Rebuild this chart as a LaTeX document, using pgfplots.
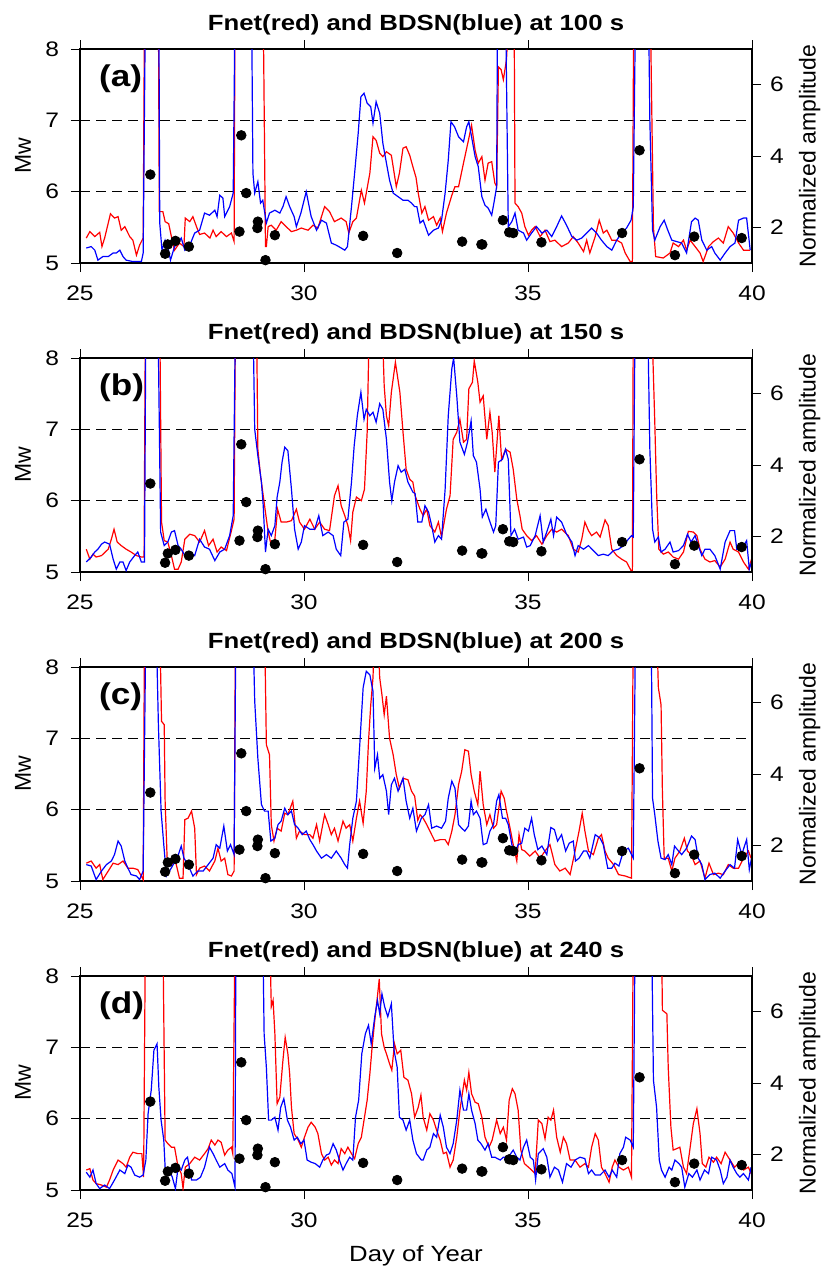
\documentclass[border=0pt]{standalone}
\usepackage{pgfplots}
\pgfplotsset{compat=1.18}
\usepackage{fontspec}
\setmainfont{Liberation Sans}[FakeStretch=1.17]
\setsansfont{Liberation Sans}[FakeStretch=1.17]
\newfontfamily\rotfont{Liberation Sans}
\newcommand{\tlab}{\fontsize{10.5}{12}\selectfont}
\newcommand{\lab}{\fontsize{11}{13}\selectfont}
\pgfplotsset{
 /pgf/number format/assume math mode=true,
 base/.style={scale only axis, width=336pt, height=107pt, xmin=25, xmax=40,
   tick align=outside, major tick length=4.5pt,
   every tick/.style={black, line width=0.5pt},
   tick label style={font=\tlab},
   clip mode=individual},
 panel/.style={base, ymin=5, ymax=8, xtick={25,30,35,40}, ytick={5,6,7,8},
   xtick pos=both, ytick pos=left,
   xticklabel style={yshift=-3.5pt}, yticklabel style={xshift=-2.5pt},
   axis line style={line width=1.15pt},
   title style={font=\bfseries\lab, at={(0.5,1)}, anchor=base, yshift=3.2pt},
   ylabel={Mw}, ylabel style={font=\rotfont\fontsize{11.5}{13}\selectfont, at={(axis description cs:-0.085,0.5)}, anchor=center}},
 amp/.style={base, ymin=1, ymax=7, ytick={2,4,6}, hide x axis,
   axis y line*=right, axis line style={line width=1.15pt},
   yticklabel style={xshift=1pt},
   ylabel={Normalized amplitude}, ylabel style={font=\rotfont\fontsize{11.5}{13}\selectfont, at={(axis description cs:1.086,0.5)}, anchor=center}},
 dsh/.style={black, line width=0.6pt, dash pattern=on 5pt off 3pt},
 rl/.style={red, line width=0.6pt},
 bl/.style={blue, line width=0.6pt},
 dots/.style={only marks, mark=*, mark size=2.4pt, black},
}
\newcommand{\dotsdata}{\addplot[dots] coordinates {(26.57,6.24)(26.90,5.13)(26.96,5.26)(27.13,5.31)(27.43,5.23)(28.60,6.79)(28.71,5.98)(28.56,5.44)(28.96,5.49)(28.97,5.58)(29.14,5.04)(29.35,5.39)(31.32,5.38)(32.08,5.14)(33.53,5.30)(33.96,5.26)(33.98,5.26)(34.44,5.60)(34.58,5.43)(34.67,5.42)(35.30,5.29)(37.10,5.42)(37.49,6.58)(38.28,5.11)(38.71,5.37)(39.77,5.35)};}
\newcommand{\dashes}{\addplot[dsh] coordinates {(25,6)(40,6)}; \addplot[dsh] coordinates {(25,7)(40,7)};}
\newcommand{\plab}[1]{\node[font=\bfseries\fontsize{15}{18}\selectfont, anchor=west] at (axis description cs:0.018,0.86) {#1};}
\begin{document}
\begin{tikzpicture}
\useasboundingbox (0,0) rectangle (413.5pt,-635pt);
% ---------------- (a)
\begin{axis}[panel, at={(40pt,-24.5pt)}, anchor=north west, title={Fnet(red) and BDSN(blue) at 100 s}]
\dashes
\addplot[rl] coordinates {(25.14,5.35)(25.22,5.44)(25.33,5.37)(25.44,5.43)(25.49,5.23)(25.55,5.35)(25.68,5.69)(25.77,5.63)(25.85,5.65)(25.92,5.46)(26.0,5.51)(26.11,5.37)(26.18,5.32)(26.26,5.11)(26.33,5.25)(26.41,5.35)(26.44,8.6)(26.75,8.6)(26.77,5.72)(26.85,5.72)(26.9,5.58)(26.98,5.55)(27.04,5.37)(27.11,5.18)(27.22,5.28)(27.32,5.23)(27.35,5.63)(27.45,5.58)(27.52,5.65)(27.6,5.51)(27.67,5.40)(27.78,5.42)(27.9,5.35)(27.97,5.46)(28.04,5.37)(28.15,5.44)(28.27,5.37)(28.38,5.42)(28.44,5.30)(28.46,8.6)(29.08,8.6)(29.10,7.9)(29.14,5.23)(29.16,5.23)(29.2,5.51)(29.27,5.53)(29.38,5.46)(29.49,5.58)(29.6,5.51)(29.72,5.44)(29.83,5.46)(29.94,5.49)(30.09,5.46)(30.2,5.53)(30.31,5.49)(30.46,5.79)(30.57,5.72)(30.68,5.58)(30.83,5.63)(30.94,5.58)(31.0,5.42)(31.09,5.58)(31.17,5.63)(31.28,6.02)(31.35,5.84)(31.47,6.26)(31.54,6.77)(31.61,6.72)(31.69,6.54)(31.76,6.49)(31.84,6.56)(31.95,6.51)(32.06,6.07)(32.13,6.26)(32.21,6.61)(32.28,6.63)(32.36,6.51)(32.43,6.35)(32.5,6.2)(32.55,5.98)(32.63,5.70)(32.70,5.79)(32.78,5.60)(32.89,5.65)(32.96,5.53)(33.04,5.63)(33.09,5.44)(33.18,5.70)(33.30,5.95)(33.37,6.07)(33.45,6.07)(33.56,6.40)(33.67,6.72)(33.74,6.93)(33.82,6.58)(33.89,6.40)(33.97,6.49)(34.04,6.16)(34.11,6.40)(34.19,6.42)(34.26,6.12)(34.30,6.07)(34.34,7.75)(34.40,7.71)(34.45,7.57)(34.52,7.85)(34.58,8.6)(34.69,8.6)(34.71,5.84)(34.78,5.79)(34.86,5.70)(34.93,5.51)(35.01,5.39)(35.08,5.46)(35.16,5.51)(35.27,5.37)(35.38,5.46)(35.49,5.30)(35.60,5.32)(35.75,5.23)(35.90,5.28)(36.01,5.37)(36.12,5.28)(36.24,5.16)(36.31,5.32)(36.38,5.14)(36.50,5.37)(36.59,5.60)(36.68,5.42)(36.76,5.46)(36.87,5.32)(36.98,5.32)(37.09,5.28)(37.17,5.14)(37.28,5.02)(37.33,5.02)(37.36,8.6)(37.73,8.6)(37.80,5.5)(37.85,5.09)(38.02,5.07)(38.17,5.14)(38.24,5.28)(38.36,5.23)(38.47,5.32)(38.54,5.18)(38.62,5.32)(38.73,5.23)(38.84,5.14)(38.91,5.02)(39.03,5.23)(39.14,5.30)(39.25,5.35)(39.36,5.28)(39.47,5.51)(39.58,5.42)(39.70,5.28)(39.81,5.18)(39.88,5.18)(39.96,5.18)};
\addplot[bl] coordinates {(25.14,5.21)(25.25,5.23)(25.33,5.18)(25.40,5.04)(25.51,5.09)(25.63,5.09)(25.74,5.14)(25.81,5.14)(25.89,5.18)(25.96,5.09)(26.03,5.04)(26.18,5.02)(26.37,5.02)(26.41,5.14)(26.46,8.6)(26.76,8.6)(26.78,5.56)(26.83,5.18)(26.9,5.32)(26.96,5.23)(27.02,5.04)(27.11,5.23)(27.19,5.28)(27.26,5.35)(27.34,5.18)(27.45,5.25)(27.56,5.42)(27.67,5.46)(27.78,5.70)(27.89,5.67)(28.01,5.74)(28.06,5.65)(28.12,5.95)(28.19,5.91)(28.23,5.65)(28.34,5.79)(28.42,5.98)(28.46,8.6)(28.83,8.6)(28.86,6.26)(28.90,5.98)(28.97,6.14)(29.03,5.84)(29.08,5.88)(29.16,5.56)(29.23,5.70)(29.35,5.74)(29.46,5.70)(29.53,5.79)(29.60,5.93)(29.68,5.79)(29.78,5.65)(29.83,5.51)(29.93,5.70)(30.05,6.0)(30.16,5.65)(30.28,5.46)(30.39,5.60)(30.5,5.56)(30.61,5.28)(30.72,5.25)(30.83,5.21)(30.91,5.18)(30.97,5.23)(31.06,5.79)(31.13,6.26)(31.21,6.82)(31.27,7.33)(31.34,7.38)(31.41,7.24)(31.49,7.19)(31.54,6.96)(31.61,7.26)(31.69,7.10)(31.76,6.68)(31.84,6.40)(31.91,6.16)(31.99,5.98)(32.1,5.93)(32.21,5.88)(32.32,5.88)(32.40,5.84)(32.47,5.79)(32.52,5.79)(32.59,5.56)(32.66,5.60)(32.78,5.39)(32.89,5.46)(33.0,5.49)(33.07,5.60)(33.15,5.98)(33.22,6.44)(33.28,6.98)(33.36,6.91)(33.45,6.77)(33.56,6.70)(33.63,6.91)(33.68,6.98)(33.74,6.77)(33.82,6.49)(33.89,6.35)(33.97,5.93)(34.04,5.81)(34.11,5.77)(34.19,5.67)(34.25,5.88)(34.30,6.07)(34.32,8.6)(34.50,8.6)(34.56,5.51)(34.64,5.58)(34.71,5.70)(34.78,5.46)(34.90,5.42)(34.97,5.32)(35.08,5.42)(35.19,5.51)(35.31,5.42)(35.42,5.46)(35.53,5.37)(35.64,5.51)(35.75,5.66)(35.86,5.53)(35.98,5.37)(36.09,5.32)(36.20,5.35)(36.31,5.42)(36.42,5.49)(36.53,5.42)(36.64,5.32)(36.76,5.23)(36.87,5.18)(36.98,5.32)(37.09,5.42)(37.20,5.49)(37.30,5.60)(37.35,5.79)(37.40,8.6)(37.69,8.6)(37.72,7.0)(37.78,5.46)(37.83,5.32)(37.95,5.51)(38.04,5.60)(38.12,5.46)(38.21,5.32)(38.32,5.30)(38.43,5.28)(38.54,5.14)(38.65,5.58)(38.73,5.63)(38.80,5.60)(38.88,5.32)(38.99,5.18)(39.10,5.23)(39.17,5.14)(39.29,5.04)(39.40,5.14)(39.51,5.23)(39.62,5.28)(39.70,5.60)(39.81,5.63)(39.88,5.63)(39.96,5.18)};
\dotsdata
\plab{(a)}
\end{axis}
\begin{axis}[amp, at={(40pt,-24.5pt)}, anchor=north west]
\addplot[draw=none] coordinates {(25,1)};
\end{axis}
% ---------------- (b)
\begin{axis}[panel, at={(40pt,-179pt)}, anchor=north west, title={Fnet(red) and BDSN(blue) at 150 s}]
\dashes
\addplot[rl] coordinates {(25.14,5.32)(25.22,5.18)(25.29,5.25)(25.36,5.21)(25.48,5.23)(25.63,5.32)(25.70,5.46)(25.76,5.60)(25.83,5.42)(25.92,5.37)(26.03,5.32)(26.14,5.28)(26.26,5.23)(26.37,5.21)(26.43,5.21)(26.46,8.6)(26.78,8.6)(26.82,5.70)(26.88,5.44)(26.96,5.42)(27.04,5.23)(27.11,5.04)(27.19,5.04)(27.26,5.14)(27.34,5.46)(27.45,5.53)(27.56,5.51)(27.67,5.42)(27.78,5.58)(27.87,5.37)(27.97,5.46)(28.06,5.28)(28.15,5.35)(28.27,5.30)(28.38,5.58)(28.44,5.74)(28.47,8.6)(28.94,8.6)(28.97,6.72)(29.03,6.35)(29.12,5.93)(29.20,5.56)(29.27,5.37)(29.35,5.46)(29.41,5.88)(29.49,5.70)(29.61,5.70)(29.72,5.72)(29.83,5.88)(29.90,5.70)(30.01,5.60)(30.13,5.74)(30.24,5.60)(30.35,5.70)(30.46,5.60)(30.57,5.58)(30.68,6.07)(30.76,6.21)(30.83,5.93)(30.91,5.79)(30.98,5.65)(31.04,5.44)(31.09,5.84)(31.17,6.05)(31.28,6.00)(31.35,6.16)(31.41,6.96)(31.46,8.6)(31.74,8.6)(31.79,7.61)(31.84,7.19)(31.89,7.05)(31.95,7.52)(32.04,7.94)(32.14,7.52)(32.21,6.96)(32.28,6.44)(32.36,6.30)(32.43,6.26)(32.48,6.07)(32.59,5.88)(32.66,5.79)(32.74,5.88)(32.81,5.65)(32.92,5.56)(33.0,5.70)(33.07,5.49)(33.18,5.88)(33.26,6.07)(33.33,6.86)(33.41,6.96)(33.48,7.14)(33.56,6.82)(33.63,6.86)(33.68,7.57)(33.76,7.66)(33.80,7.96)(33.88,7.66)(33.93,7.38)(34.0,7.47)(34.08,6.86)(34.15,7.24)(34.20,6.96)(34.26,6.40)(34.35,7.19)(34.41,6.58)(34.50,6.72)(34.60,6.68)(34.67,6.44)(34.75,6.02)(34.82,5.79)(34.87,5.60)(34.97,5.51)(35.08,5.44)(35.19,5.51)(35.31,5.39)(35.42,5.51)(35.53,5.60)(35.64,5.56)(35.75,5.60)(35.90,5.51)(36.01,5.32)(36.12,5.28)(36.20,5.46)(36.27,5.70)(36.35,5.58)(36.42,5.51)(36.53,5.56)(36.61,5.49)(36.72,5.73)(36.79,5.65)(36.87,5.32)(36.98,5.23)(37.09,5.18)(37.20,5.14)(37.30,5.02)(37.33,5.02)(37.35,8.6)(37.76,8.6)(37.83,7.10)(37.87,6.12)(37.92,5.32)(38.02,5.25)(38.13,5.28)(38.24,5.21)(38.36,5.18)(38.47,5.28)(38.58,5.57)(38.69,5.56)(38.77,5.51)(38.84,5.32)(38.95,5.18)(39.06,5.14)(39.17,5.16)(39.29,5.07)(39.40,5.18)(39.51,5.42)(39.58,5.32)(39.70,5.28)(39.81,5.14)(39.92,5.04)(39.99,5.18)};
\addplot[bl] coordinates {(25.14,5.14)(25.25,5.21)(25.33,5.28)(25.40,5.32)(25.48,5.39)(25.55,5.42)(25.66,5.39)(25.74,5.18)(25.81,5.04)(25.89,5.14)(25.96,5.14)(26.03,5.02)(26.11,5.14)(26.22,5.23)(26.29,5.28)(26.37,5.14)(26.44,5.14)(26.47,8.6)(26.74,8.6)(26.80,5.56)(26.88,5.37)(26.96,5.42)(27.04,5.56)(27.11,5.58)(27.19,5.37)(27.26,5.32)(27.34,5.23)(27.45,5.28)(27.56,5.23)(27.67,5.46)(27.78,5.35)(27.89,5.32)(28.01,5.16)(28.12,5.28)(28.23,5.32)(28.34,5.51)(28.42,5.79)(28.47,8.6)(28.86,8.6)(28.90,7.0)(28.97,6.63)(29.05,6.26)(29.09,5.93)(29.14,5.28)(29.20,5.60)(29.27,5.51)(29.35,5.65)(29.40,6.05)(29.46,6.26)(29.51,6.54)(29.57,6.75)(29.64,6.70)(29.72,6.16)(29.79,5.60)(29.87,5.32)(29.94,5.42)(30.01,5.65)(30.13,5.60)(30.24,5.60)(30.33,5.79)(30.42,5.51)(30.54,5.56)(30.65,5.51)(30.72,5.32)(30.82,5.23)(30.89,5.70)(30.98,5.74)(31.06,6.26)(31.12,6.77)(31.19,7.19)(31.27,7.52)(31.34,7.14)(31.39,7.28)(31.47,7.19)(31.54,7.24)(31.61,7.10)(31.69,7.36)(31.76,7.28)(31.84,6.86)(31.91,6.26)(31.96,6.0)(32.02,6.26)(32.10,6.49)(32.17,6.40)(32.25,6.44)(32.32,6.26)(32.43,6.12)(32.48,6.10)(32.54,5.70)(32.63,5.70)(32.70,5.93)(32.78,5.84)(32.85,5.65)(32.92,5.42)(33.0,5.51)(33.07,5.46)(33.15,6.16)(33.22,7.19)(33.30,7.85)(33.34,8.0)(33.41,7.47)(33.48,6.82)(33.58,6.65)(33.65,6.82)(33.73,7.12)(33.78,6.63)(33.85,6.54)(33.93,6.16)(33.98,5.77)(34.06,5.88)(34.13,5.74)(34.23,5.56)(34.28,5.65)(34.34,6.54)(34.43,6.58)(34.50,6.72)(34.56,6.58)(34.62,5.51)(34.70,5.60)(34.78,5.46)(34.90,5.49)(34.97,5.35)(35.05,5.37)(35.16,5.51)(35.27,5.79)(35.34,5.42)(35.44,5.60)(35.51,5.74)(35.57,5.51)(35.64,5.77)(35.75,5.70)(35.86,5.53)(35.98,5.42)(36.05,5.23)(36.12,5.37)(36.24,5.32)(36.35,5.37)(36.46,5.30)(36.57,5.23)(36.68,5.25)(36.79,5.23)(36.91,5.30)(37.02,5.32)(37.13,5.37)(37.24,5.46)(37.31,5.51)(37.35,5.49)(37.39,8.6)(37.67,8.6)(37.72,6.72)(37.78,5.60)(37.83,5.42)(37.91,5.49)(37.97,5.28)(38.06,5.32)(38.17,5.42)(38.24,5.28)(38.36,5.30)(38.47,5.37)(38.56,5.53)(38.64,5.42)(38.73,5.51)(38.80,5.37)(38.88,5.23)(38.95,5.32)(39.06,5.32)(39.17,5.23)(39.29,5.04)(39.40,5.42)(39.51,5.58)(39.61,5.58)(39.66,5.32)(39.77,5.32)(39.88,5.44)(39.94,5.04)(39.99,5.14)};
\dotsdata
\plab{(b)}
\end{axis}
\begin{axis}[amp, at={(40pt,-179pt)}, anchor=north west]
\addplot[draw=none] coordinates {(25,1)};
\end{axis}
% ---------------- (c)
\begin{axis}[panel, at={(40pt,-333.5pt)}, anchor=north west, title={Fnet(red) and BDSN(blue) at 200 s}]
\dashes
\addplot[rl] coordinates {(25.14,5.25)(25.25,5.28)(25.36,5.18)(25.44,5.23)(25.51,5.02)(25.63,5.14)(25.74,5.25)(25.85,5.23)(25.96,5.28)(26.07,5.18)(26.18,5.18)(26.29,5.16)(26.41,5.02)(26.44,8.6)(26.78,8.6)(26.82,7.24)(26.88,7.19)(26.90,6.12)(26.95,5.23)(27.04,5.23)(27.13,5.28)(27.22,5.04)(27.30,5.04)(27.34,5.86)(27.41,5.88)(27.49,5.98)(27.56,5.74)(27.60,5.09)(27.67,5.18)(27.78,5.21)(27.89,5.14)(28.01,5.28)(28.08,5.46)(28.15,5.28)(28.23,5.32)(28.30,5.09)(28.38,5.07)(28.44,5.14)(28.47,8.6)(29.12,8.6)(29.16,6.91)(29.23,6.77)(29.27,5.79)(29.33,5.56)(29.40,5.74)(29.49,5.70)(29.57,5.95)(29.64,5.93)(29.75,6.12)(29.83,5.60)(29.90,5.70)(30.01,5.65)(30.13,5.65)(30.20,5.60)(30.28,5.79)(30.35,5.56)(30.46,5.93)(30.54,5.79)(30.61,5.65)(30.68,5.74)(30.76,5.56)(30.87,5.84)(30.94,5.74)(31.02,5.79)(31.09,5.56)(31.17,5.88)(31.24,6.12)(31.32,5.81)(31.39,6.26)(31.44,6.96)(31.49,7.47)(31.54,7.85)(31.58,8.6)(31.64,8.6)(31.69,7.85)(31.74,7.61)(31.79,7.33)(31.84,7.59)(31.91,7.0)(31.99,6.77)(32.06,6.49)(32.13,6.30)(32.21,6.44)(32.32,6.42)(32.40,6.26)(32.47,6.19)(32.54,5.85)(32.59,5.93)(32.66,5.88)(32.74,5.79)(32.81,5.70)(32.92,5.56)(33.04,5.58)(33.15,5.58)(33.22,5.51)(33.30,5.70)(33.37,5.93)(33.45,6.35)(33.52,6.54)(33.59,6.84)(33.67,6.82)(33.73,6.49)(33.80,6.26)(33.88,6.07)(33.93,6.54)(34.0,6.07)(34.08,5.79)(34.15,5.93)(34.23,5.74)(34.30,5.79)(34.40,6.26)(34.47,6.16)(34.52,5.98)(34.60,5.74)(34.67,5.51)(34.75,5.28)(34.80,5.65)(34.86,5.44)(34.93,5.42)(35.04,5.35)(35.16,5.42)(35.27,5.32)(35.38,5.42)(35.49,5.51)(35.60,5.23)(35.71,5.14)(35.83,5.18)(35.94,5.09)(36.05,5.42)(36.14,5.70)(36.21,5.95)(36.27,5.70)(36.35,5.42)(36.46,5.37)(36.57,5.60)(36.64,5.65)(36.72,5.42)(36.79,5.32)(36.91,5.23)(37.02,5.09)(37.17,5.07)(37.31,5.04)(37.35,8.6)(37.87,8.6)(37.91,7.71)(37.97,7.47)(38.0,6.26)(38.04,5.32)(38.13,5.32)(38.21,5.14)(38.28,5.32)(38.39,5.42)(38.49,5.60)(38.56,5.42)(38.64,5.37)(38.73,5.23)(38.84,5.28)(38.95,5.04)(39.04,5.25)(39.14,5.09)(39.25,5.11)(39.36,5.09)(39.47,5.23)(39.58,5.18)(39.70,5.18)(39.81,5.32)(39.92,5.42)(39.98,5.32)};
\addplot[bl] coordinates {(25.14,5.23)(25.25,5.21)(25.36,5.02)(25.48,5.14)(25.59,5.23)(25.70,5.28)(25.77,5.37)(25.85,5.56)(25.92,5.49)(26.0,5.28)(26.07,5.18)(26.14,5.09)(26.26,5.07)(26.33,5.02)(26.41,5.14)(26.47,8.6)(26.70,8.6)(26.75,7.19)(26.81,5.98)(26.87,5.51)(26.93,5.07)(27.0,5.14)(27.08,5.23)(27.17,5.32)(27.26,5.49)(27.32,5.32)(27.41,5.23)(27.52,5.07)(27.63,5.14)(27.75,5.14)(27.86,5.23)(27.97,5.32)(28.04,5.51)(28.12,5.46)(28.21,5.77)(28.29,5.42)(28.36,5.51)(28.44,5.37)(28.48,8.6)(28.86,8.6)(28.90,7.52)(28.97,6.72)(29.05,6.07)(29.12,5.98)(29.20,5.98)(29.26,5.56)(29.35,5.60)(29.42,5.79)(29.49,5.84)(29.57,6.02)(29.64,5.93)(29.72,5.98)(29.79,5.79)(29.87,5.74)(29.96,5.65)(30.05,5.70)(30.13,5.58)(30.20,5.51)(30.28,5.42)(30.39,5.32)(30.50,5.37)(30.61,5.32)(30.72,5.42)(30.83,5.32)(30.91,5.23)(30.97,5.18)(31.02,5.51)(31.09,5.88)(31.17,6.12)(31.24,6.86)(31.32,7.71)(31.39,7.94)(31.47,7.89)(31.54,7.66)(31.58,6.58)(31.64,6.77)(31.69,6.44)(31.76,6.49)(31.84,6.26)(31.89,5.93)(31.95,6.35)(32.02,6.44)(32.10,6.26)(32.21,6.44)(32.28,6.12)(32.36,5.88)(32.43,6.02)(32.51,5.70)(32.62,5.88)(32.70,5.93)(32.78,6.07)(32.85,5.74)(32.96,5.77)(33.07,5.74)(33.16,5.84)(33.22,6.16)(33.30,6.40)(33.37,6.30)(33.45,5.79)(33.52,5.74)(33.59,5.70)(33.67,5.77)(33.73,6.12)(33.78,5.93)(33.85,5.98)(33.93,5.88)(34.0,5.51)(34.08,5.53)(34.15,5.70)(34.23,5.79)(34.30,6.12)(34.35,6.21)(34.43,5.88)(34.50,5.88)(34.56,5.79)(34.64,5.51)(34.71,5.39)(34.78,5.51)(34.86,5.53)(34.93,5.74)(35.01,5.70)(35.08,5.88)(35.14,5.65)(35.22,5.44)(35.31,5.49)(35.42,5.37)(35.51,5.75)(35.59,5.72)(35.66,5.56)(35.75,5.65)(35.84,5.42)(35.92,5.53)(36.01,5.56)(36.06,5.28)(36.14,5.32)(36.24,5.42)(36.31,5.42)(36.38,5.32)(36.50,5.65)(36.61,5.60)(36.68,5.51)(36.78,5.18)(36.87,5.18)(36.94,5.25)(37.03,5.21)(37.13,5.42)(37.24,5.46)(37.31,5.37)(37.35,5.32)(37.40,8.6)(37.75,8.6)(37.78,6.16)(37.83,5.93)(37.90,5.56)(37.97,5.32)(38.06,5.30)(38.13,5.37)(38.21,5.23)(38.27,5.49)(38.36,5.42)(38.43,5.37)(38.54,5.46)(38.65,5.63)(38.73,5.58)(38.80,5.32)(38.88,5.23)(38.95,5.02)(39.06,5.09)(39.17,5.11)(39.29,5.04)(39.40,5.14)(39.51,5.23)(39.61,5.18)(39.68,5.58)(39.77,5.37)(39.88,5.58)(39.94,5.16)(39.99,5.32)};
\dotsdata
\plab{(c)}
\end{axis}
\begin{axis}[amp, at={(40pt,-333.5pt)}, anchor=north west]
\addplot[draw=none] coordinates {(25,1)};
\end{axis}
% ---------------- (d)
\begin{axis}[panel, at={(40pt,-488pt)}, anchor=north west, title={Fnet(red) and BDSN(blue) at 240 s}, xlabel={Day of Year}, xlabel style={font=\lab, at={(axis description cs:0.5,0)}, anchor=base, yshift=-35.5pt}]
\dashes
\addplot[rl] coordinates {(25.14,5.28)(25.22,5.30)(25.29,5.14)(25.36,5.09)(25.48,5.07)(25.59,5.04)(25.66,5.14)(25.74,5.28)(25.85,5.42)(25.96,5.37)(26.03,5.32)(26.11,5.46)(26.18,5.53)(26.29,5.51)(26.38,5.51)(26.42,5.18)(26.46,8.6)(26.85,8.6)(26.90,5.70)(26.96,5.65)(27.04,5.60)(27.11,5.60)(27.19,5.32)(27.26,5.23)(27.30,5.02)(27.35,5.32)(27.45,5.37)(27.56,5.46)(27.67,5.42)(27.78,5.51)(27.86,5.58)(27.93,5.70)(28.01,5.63)(28.08,5.70)(28.15,5.67)(28.23,5.49)(28.30,5.56)(28.38,5.60)(28.41,5.51)(28.46,8.6)(29.24,8.6)(29.26,7.85)(29.27,7.57)(29.31,7.66)(29.35,7.19)(29.40,6.21)(29.46,6.30)(29.53,6.82)(29.58,7.14)(29.64,6.91)(29.68,6.63)(29.72,6.16)(29.78,5.79)(29.87,5.70)(29.94,5.60)(30.01,5.74)(30.09,5.88)(30.16,5.95)(30.25,5.88)(30.31,5.79)(30.39,5.51)(30.46,5.42)(30.54,5.46)(30.61,5.35)(30.68,5.42)(30.76,5.37)(30.83,5.58)(30.91,5.51)(30.98,5.60)(31.06,5.51)(31.13,5.44)(31.21,5.65)(31.28,5.74)(31.34,5.98)(31.41,6.26)(31.47,6.63)(31.52,7.0)(31.58,7.38)(31.63,7.66)(31.68,7.96)(31.73,7.19)(31.79,7.0)(31.84,6.91)(31.91,6.77)(31.96,6.68)(32.02,7.05)(32.08,6.91)(32.16,6.96)(32.23,6.58)(32.32,6.54)(32.40,6.35)(32.47,6.02)(32.55,6.16)(32.61,6.33)(32.66,6.02)(32.74,5.84)(32.81,6.07)(32.89,5.98)(32.96,5.84)(33.04,5.70)(33.11,5.51)(33.18,5.53)(33.26,5.32)(33.33,5.42)(33.41,5.74)(33.48,6.12)(33.58,6.54)(33.63,6.40)(33.68,6.65)(33.74,6.35)(33.82,6.23)(33.89,6.21)(33.97,6.02)(34.04,5.74)(34.13,5.60)(34.20,5.70)(34.30,5.98)(34.38,5.79)(34.45,5.88)(34.52,5.70)(34.58,6.26)(34.65,6.42)(34.71,6.35)(34.78,6.12)(34.84,5.56)(34.92,5.37)(35.01,5.32)(35.08,5.28)(35.16,5.23)(35.23,5.98)(35.31,5.93)(35.38,5.72)(35.45,6.02)(35.51,5.98)(35.57,6.12)(35.64,5.74)(35.72,5.53)(35.79,5.74)(35.86,5.65)(35.94,5.42)(36.05,5.42)(36.16,5.32)(36.27,5.37)(36.35,5.32)(36.42,5.60)(36.50,5.79)(36.57,5.70)(36.64,5.32)(36.72,5.23)(36.81,5.11)(36.88,5.32)(36.94,5.42)(37.03,5.32)(37.13,5.28)(37.24,5.32)(37.31,5.18)(37.35,8.6)(37.98,8.6)(38.0,7.52)(38.10,7.47)(38.13,6.72)(38.19,5.88)(38.24,5.56)(38.32,5.58)(38.39,5.60)(38.47,5.32)(38.54,5.23)(38.62,5.60)(38.69,5.93)(38.77,6.14)(38.84,5.79)(38.89,5.37)(38.97,5.32)(39.04,5.46)(39.14,5.39)(39.21,5.46)(39.31,5.37)(39.40,5.53)(39.51,5.42)(39.61,5.32)(39.70,5.37)(39.81,5.28)(39.92,5.32)(39.98,5.23)};
\addplot[bl] coordinates {(25.14,5.25)(25.22,5.18)(25.29,5.28)(25.36,5.09)(25.44,5.02)(25.55,5.07)(25.66,5.02)(25.77,5.14)(25.89,5.28)(26.0,5.23)(26.07,5.35)(26.14,5.32)(26.22,5.21)(26.33,5.18)(26.41,5.21)(26.47,5.42)(26.52,6.07)(26.59,6.40)(26.65,6.96)(26.72,7.05)(26.76,6.44)(26.81,5.98)(26.87,5.70)(26.90,5.32)(26.98,5.30)(27.06,5.18)(27.13,5.02)(27.19,5.32)(27.26,5.28)(27.34,5.42)(27.40,5.46)(27.49,5.14)(27.60,5.14)(27.69,5.18)(27.78,5.32)(27.89,5.60)(27.97,5.51)(28.04,5.42)(28.12,5.32)(28.23,5.37)(28.30,5.28)(28.39,5.23)(28.46,5.04)(28.48,8.6)(29.08,8.6)(29.11,7.19)(29.16,6.72)(29.21,5.98)(29.27,5.98)(29.35,6.02)(29.42,5.84)(29.48,6.16)(29.55,6.28)(29.63,5.98)(29.70,5.88)(29.78,5.70)(29.85,5.74)(29.93,5.65)(30.00,5.70)(30.07,5.42)(30.16,5.39)(30.25,5.37)(30.35,5.32)(30.42,5.42)(30.50,5.49)(30.57,5.51)(30.65,5.65)(30.72,5.56)(30.79,5.42)(30.87,5.28)(30.94,5.37)(31.02,5.46)(31.09,5.42)(31.15,6.02)(31.22,6.26)(31.29,6.91)(31.37,7.19)(31.44,7.31)(31.50,7.05)(31.58,7.43)(31.64,7.66)(31.69,7.47)(31.74,7.75)(31.80,7.57)(31.87,7.43)(31.95,7.61)(32.01,6.96)(32.08,6.72)(32.13,6.02)(32.21,5.98)(32.28,5.84)(32.36,5.98)(32.43,5.70)(32.51,5.51)(32.62,5.42)(32.66,5.42)(32.74,5.56)(32.81,5.60)(32.89,5.79)(32.96,5.74)(33.04,6.05)(33.11,5.88)(33.18,5.60)(33.26,5.51)(33.33,5.65)(33.41,5.98)(33.48,6.40)(33.56,6.12)(33.63,6.12)(33.68,6.35)(33.74,6.12)(33.82,5.93)(33.88,5.70)(33.95,5.65)(34.04,5.56)(34.11,5.65)(34.19,5.46)(34.26,5.46)(34.38,5.42)(34.45,5.46)(34.56,5.46)(34.67,5.56)(34.75,5.46)(34.82,5.42)(34.90,5.60)(34.97,5.70)(35.05,5.46)(35.12,5.42)(35.17,5.14)(35.23,5.51)(35.34,5.58)(35.42,5.46)(35.49,5.18)(35.59,5.32)(35.68,5.28)(35.77,5.11)(35.86,5.37)(35.96,5.32)(36.05,5.42)(36.16,5.46)(36.27,5.44)(36.35,5.23)(36.42,5.28)(36.50,5.21)(36.61,5.21)(36.72,5.28)(36.81,5.18)(36.88,5.28)(36.98,5.18)(37.05,5.51)(37.13,5.60)(37.18,5.74)(37.28,5.70)(37.35,5.60)(37.39,8.6)(37.76,8.6)(37.80,6.54)(37.87,6.16)(37.93,5.42)(37.98,5.28)(38.06,5.18)(38.15,5.32)(38.21,5.28)(38.28,5.42)(38.37,5.37)(38.43,5.32)(38.50,5.04)(38.59,5.23)(38.67,5.18)(38.77,5.28)(38.84,5.14)(38.94,5.28)(39.03,5.23)(39.10,5.46)(39.21,5.42)(39.29,5.28)(39.36,5.09)(39.44,5.18)(39.51,5.42)(39.58,5.32)(39.66,5.23)(39.73,5.18)(39.81,5.23)(39.92,5.14)(39.98,5.32)};
\dotsdata
\plab{(d)}
\end{axis}
\begin{axis}[amp, at={(40pt,-488pt)}, anchor=north west]
\addplot[draw=none] coordinates {(25,1)};
\end{axis}
\end{tikzpicture}
\end{document}
